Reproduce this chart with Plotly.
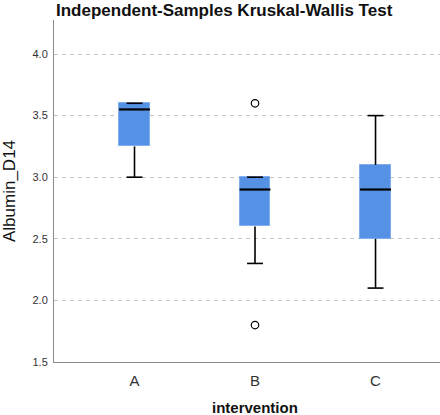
import plotly.graph_objects as go

categories = ["A", "B", "C"]
q1 = [3.25, 2.6, 2.5]
median = [3.55, 2.9, 2.9]
q3 = [3.6, 3.0, 3.1]
lower_whisker = [3.0, 2.3, 2.1]
upper_whisker = [3.6, 3.0, 3.5]
outlier_cat = ["B", "B"]
outlier_val = [3.6, 1.8]
y_ticks = [1.5, 2.0, 2.5, 3.0, 3.5, 4.0]

BOX_HALF = 0.128
CAP_HALF = 0.066
FILL = "rgb(85,145,228)"
EDGE = "rgb(130,172,235)"

pos = {c: i for i, c in enumerate(categories)}
xs = [pos[c] for c in categories]

fig = go.Figure()

# box bodies
fig.add_trace(go.Bar(
    x=xs, y=[b - a for a, b in zip(q1, q3)], base=q1, width=2 * BOX_HALF,
    marker=dict(color=FILL, line=dict(color=EDGE, width=1)),
    hoverinfo="skip", showlegend=False))

# whiskers
wx, wy = [], []
for x, a, b, lo, hi in zip(xs, q1, q3, lower_whisker, upper_whisker):
    wx += [x, x, None, x, x, None]
    wy += [lo, a, None, b, hi, None]
fig.add_trace(go.Scatter(x=wx, y=wy, mode="lines",
                         line=dict(color="black", width=1.6), hoverinfo="skip", showlegend=False))

# caps
cx, cy = [], []
for x, lo, hi in zip(xs, lower_whisker, upper_whisker):
    cx += [x - CAP_HALF, x + CAP_HALF, None, x - CAP_HALF, x + CAP_HALF, None]
    cy += [lo, lo, None, hi, hi, None]
fig.add_trace(go.Scatter(x=cx, y=cy, mode="lines",
                         line=dict(color="black", width=1.6), hoverinfo="skip", showlegend=False))

# medians
mx, my = [], []
for x, m in zip(xs, median):
    mx += [x - BOX_HALF, x + BOX_HALF, None]
    my += [m, m, None]
fig.add_trace(go.Scatter(x=mx, y=my, mode="lines",
                         line=dict(color="black", width=2.2), hoverinfo="skip", showlegend=False))

# outliers
fig.add_trace(go.Scatter(x=[pos[c] for c in outlier_cat], y=outlier_val, mode="markers",
                         marker=dict(symbol="circle-open", size=7.5, color="black",
                                     line=dict(width=1.2)),
                         hoverinfo="skip", showlegend=False))

font_family = "Liberation Sans, Arial, sans-serif"

fig.update_layout(
    width=440, height=415,
    margin=dict(l=54, r=0, t=20, b=53),
    plot_bgcolor="white", paper_bgcolor="white",
    font=dict(family=font_family, color="#222"),
    bargap=0,
    annotations=[
        dict(text="<b>Independent-Samples Kruskal-Wallis Test</b>", xref="paper", yref="paper",
             x=0, y=1, xanchor="left", yanchor="middle", yshift=10, showarrow=False,
             font=dict(size=17, color="#111", family=font_family)),
        dict(text="<b>intervention</b>", xref="x", yref="paper", x=1, y=0,
             xanchor="center", yanchor="middle", yshift=-45, showarrow=False,
             font=dict(size=15, color="#111", family=font_family)),
    ],
)
fig.update_xaxes(
    range=[-0.668, 2.535], tickvals=xs, ticktext=categories,
    showgrid=False, zeroline=False, showline=True, linecolor="#8a8a8a", linewidth=1,
    ticks="", tickfont=dict(size=15, color="#333"), ticklabelstandoff=5,
)
fig.update_yaxes(
    range=[1.5, 4.276], tickvals=y_ticks, ticktext=[f"{v:.1f}" for v in y_ticks],
    showgrid=True, gridcolor="#c4c4c4", griddash="4px,4px", gridwidth=1,
    zeroline=False, showline=True, linecolor="#8a8a8a", linewidth=1,
    ticks="", tickfont=dict(size=11, color="#333"), ticklabelstandoff=3,
    title=dict(text="Albumin_D14", font=dict(size=17, color="#111"), standoff=14),
)

fig.write_html("out.html", config={"displayModeBar": False},
               post_script="document.body.style.margin='0px';")
